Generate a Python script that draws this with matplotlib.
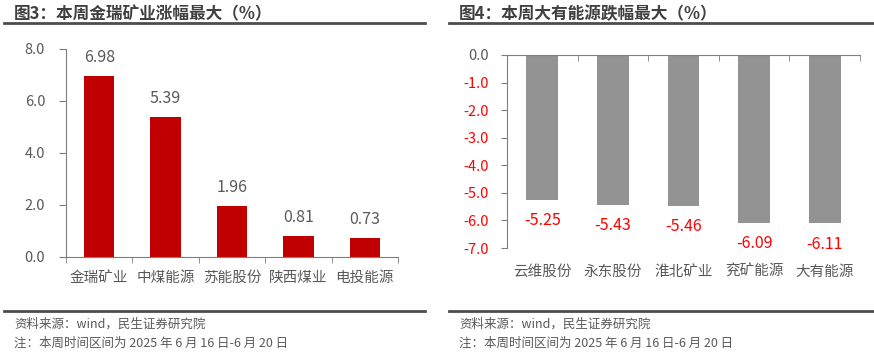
import matplotlib
matplotlib.use("Agg")
import matplotlib.pyplot as plt
from matplotlib.lines import Line2D

plt.rcParams['font.family'] = ['Noto Sans CJK SC', 'DejaVu Sans']

# left chart: biggest weekly gains
up_names = ['金瑞矿业', '中煤能源', '苏能股份', '陕西煤业', '电投能源']
up_vals = [6.98, 5.39, 1.96, 0.81, 0.73]
up_ticks = [0.0, 2.0, 4.0, 6.0, 8.0]

# right chart: biggest weekly drops
down_names = ['云维股份', '永东股份', '淮北矿业', '兖矿能源', '大有能源']
down_vals = [-5.25, -5.43, -5.46, -6.09, -6.11]
down_ticks = [0.0, -1.0, -2.0, -3.0, -4.0, -5.0, -6.0, -7.0]

title_left = '图3：本周金瑞矿业涨幅最大（%）'
title_right = '图4：本周大有能源跌幅最大（%）'
source = '资料来源：wind，民生证券研究院'
note = '注：本周时间区间为 2025 年 6 月 16 日-6 月 20 日'

W, H = 874, 357
txt = '#595959'
spine_c = '#7f7f7f'
red = '#C00000'
grey = '#939393'

fig = plt.figure(figsize=(W / 100, H / 100), dpi=100)


def px(x0, y0, x1, y1):
    # pixel box (top-left origin) -> figure rect
    return [x0 / W, 1 - y1 / H, (x1 - x0) / W, (y1 - y0) / H]


def frame(x0, x1, tx, title):
    fig.text(tx / W, 1 - 14 / H, title, fontsize=12, fontweight='bold',
             color='#404040', va='center', ha='left')
    for y in (23, 311):
        fig.add_artist(Line2D([x0 / W, x1 / W], [1 - y / H] * 2, color='#4d4d4d',
                              lw=2, transform=fig.transFigure))
    fig.text(tx / W, 1 - 324 / H, source, fontsize=9, color=txt, va='center')
    fig.text(tx / W, 1 - 343 / H, note, fontsize=9, color=txt, va='center')


frame(4, 425, 14, title_left)
frame(449, 874, 459, title_right)

# ---- left
ax = fig.add_axes(px(66, 49, 398, 257))
xs = range(len(up_names))
ax.bar(xs, up_vals, width=0.46, color=red)
ax.set_xlim(-0.5, len(up_names) - 0.5)
ax.set_ylim(0, 8)
ax.set_yticks(up_ticks)
ax.set_yticklabels([f'{t:.1f}' for t in up_ticks])
ax.set_xticks(list(xs))
ax.set_xticklabels(up_names)
ax.set_xticks([i - 0.5 for i in range(len(up_names) + 1)], minor=True)
ax.tick_params(axis='x', which='major', length=0, pad=10, labelsize=10.5, labelcolor=txt)
ax.tick_params(axis='x', which='minor', length=4, color=spine_c, direction='out')
ax.tick_params(axis='y', length=5, color=spine_c, pad=10, labelsize=10.5, labelcolor=txt)
for s in ('top', 'right'):
    ax.spines[s].set_visible(False)
for s in ('left', 'bottom'):
    ax.spines[s].set_color(spine_c)
for i, v in enumerate(up_vals):
    ax.annotate(f'{v:.2f}', (i, v), xytext=(0, 7), textcoords='offset points',
                ha='center', va='bottom', fontsize=11.5, color=txt)

# ---- right
ax2 = fig.add_axes(px(507, 55, 860, 248))
xs = range(len(down_names))
ax2.bar(xs, down_vals, width=0.45, color=grey)
ax2.set_xlim(-0.5, len(down_names) - 0.5)
ax2.set_ylim(-7, 0)
ax2.set_yticks(down_ticks)
ax2.set_yticklabels([f'{t:.1f}' for t in down_ticks])
for lab, t in zip(ax2.get_yticklabels(), down_ticks):
    lab.set_color(txt if t == 0 else '#FF0000')
ax2.set_xticks(list(xs))
ax2.set_xticklabels(down_names)
ax2.set_xticks([i - 0.5 for i in range(len(down_names) + 1)], minor=True)
ax2.tick_params(axis='x', which='major', length=0, pad=12, labelsize=10.5, labelcolor=txt)
ax2.tick_params(axis='x', which='minor', bottom=False, top=True, length=4,
                color=spine_c, direction='in')
ax2.tick_params(axis='y', length=4, color=spine_c, pad=9, labelsize=10.5)
for s in ('bottom', 'right'):
    ax2.spines[s].set_visible(False)
for s in ('left', 'top'):
    ax2.spines[s].set_color(spine_c)
for i, v in enumerate(down_vals):
    ax2.annotate(f'{v:.2f}', (i, v), xytext=(0, -9), textcoords='offset points',
                 ha='center', va='top', fontsize=11.5, color='#FF0000')

fig.savefig('out.png', dpi=100)
